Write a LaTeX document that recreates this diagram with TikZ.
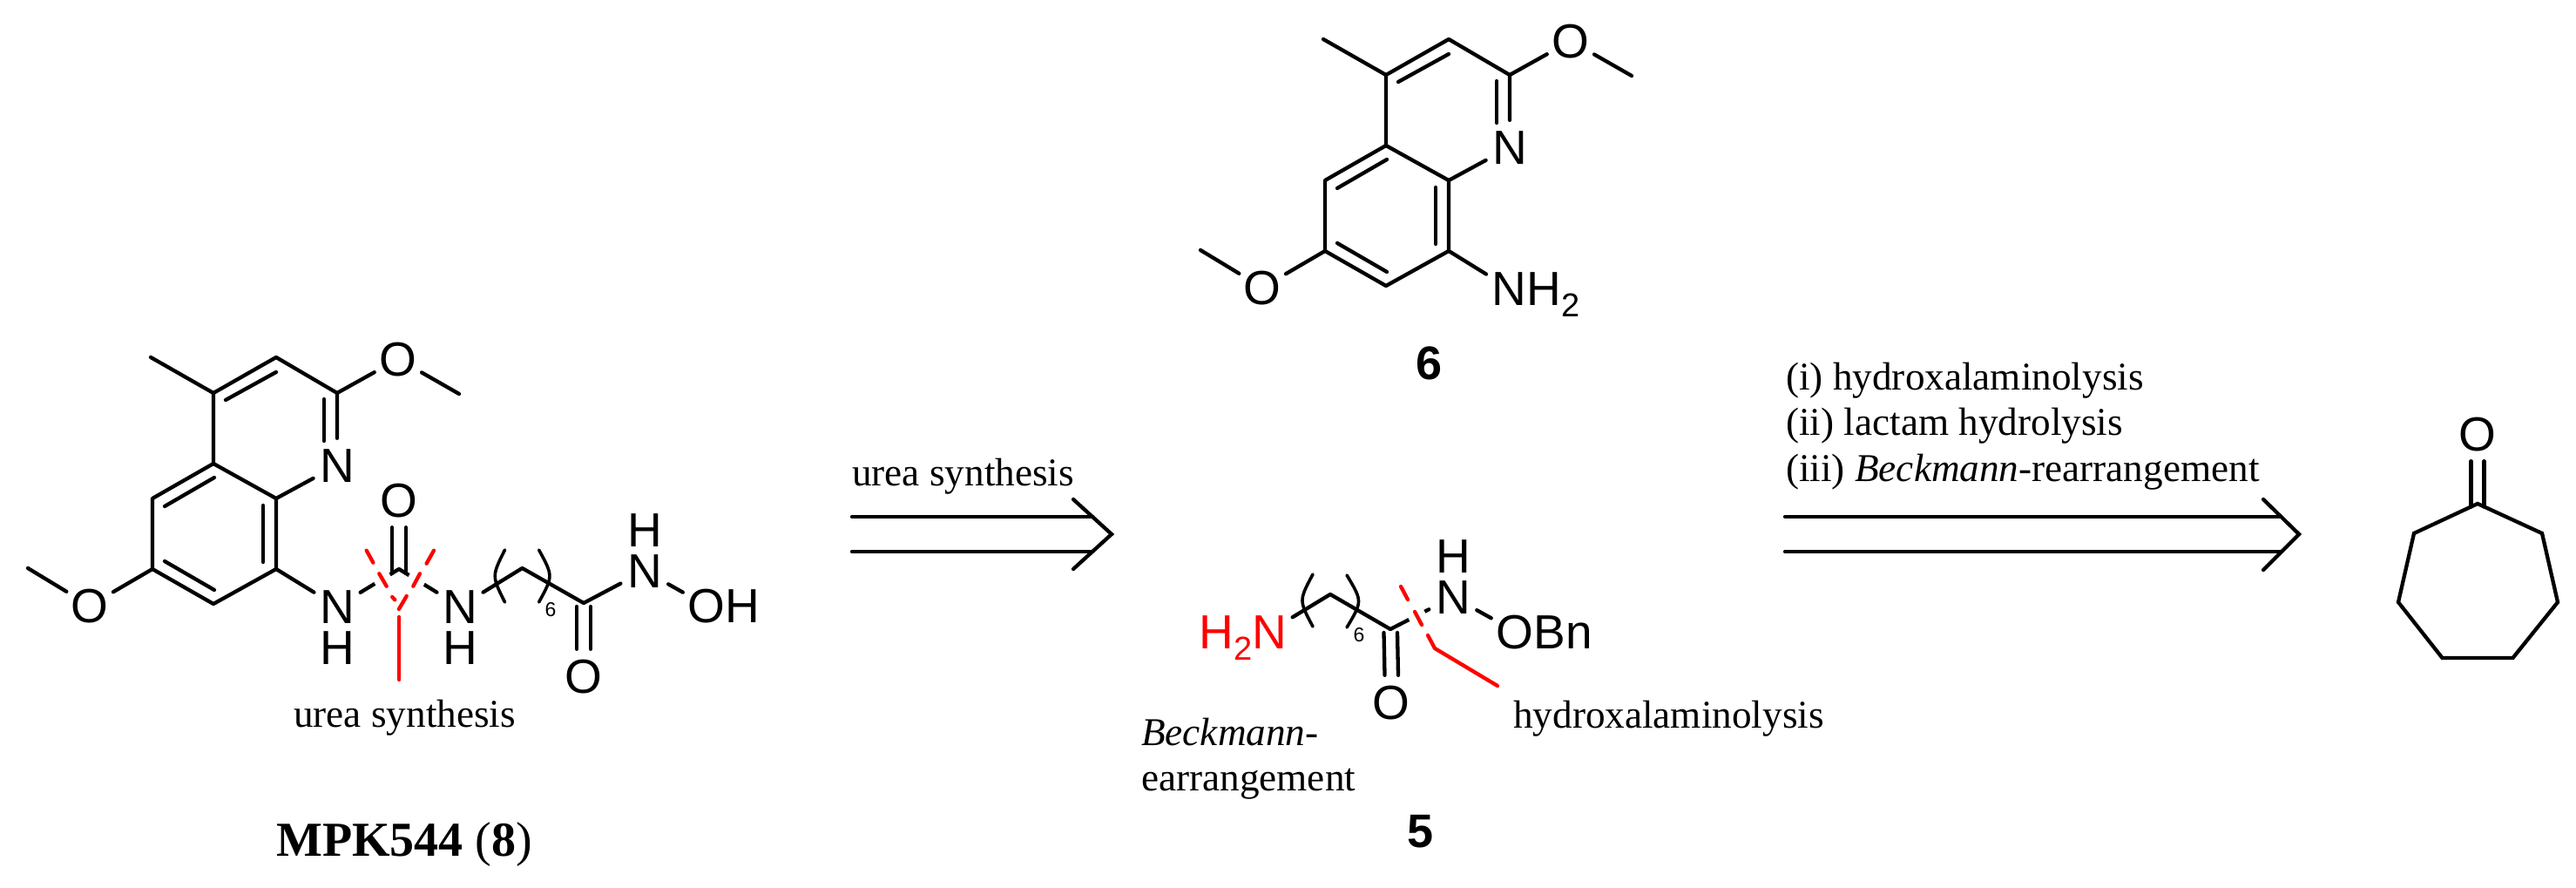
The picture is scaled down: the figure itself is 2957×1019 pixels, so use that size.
\documentclass[tikz,border=0pt]{standalone}
\usepackage{fontspec}
\setmainfont{Liberation Serif}
\newfontfamily\atomf{Liberation Sans}
\definecolor{cutred}{RGB}{255,0,0}
\tikzset{
  bond/.style={draw=black,line width=4.3pt,line cap=round,line join=round},
  thinbond/.style={draw=black,line width=3.6pt,line cap=round},
  cut/.style={draw=cutred,line width=4.3pt,line cap=round,line join=round},
  cuthalo/.style={draw=white,line width=20pt,line cap=butt},
  atom/.style={circle,inner sep=0pt,minimum size=62pt,text height=39.5pt,text depth=0pt,font=\atomf\fontsize{55}{60}\selectfont},
  plainlabel/.style={inner sep=0pt,anchor=base west,font=\fontsize{45.2}{52}\selectfont},
  boldnum/.style={inner sep=0pt,anchor=base,font=\atomf\bfseries\fontsize{54}{60}\selectfont},
  repeatnum/.style={inner sep=0pt,font=\atomf\fontsize{23}{26}\selectfont}
}
\newcommand{\subtwo}{\raisebox{-13pt}{\fontsize{38}{40}\selectfont 2}}
\newcommand{\quin}[3]{%
\begin{scope}[shift={(#2,#3)}]
  \coordinate (#1me) at (173,410);
  \coordinate (#1c4) at (245,451);
  \coordinate (#1c3) at (317,410);
  \coordinate (#1c2) at (387,451);
  \coordinate (#1c8a) at (317,572);
  \coordinate (#1c4a) at (245,532);
  \coordinate (#1c5) at (175,572);
  \coordinate (#1c6) at (175,653);
  \coordinate (#1c7) at (245,693);
  \coordinate (#1c8) at (317,653);
  \coordinate (#1mea) at (527,452);
  \coordinate (#1meb) at (32,652);
  \node[atom] (#1ot) at (457,412) {O};
  \node[atom] (#1n) at (387,534) {N};
  \node[atom] (#1ob) at (103,695) {O};
  \draw[bond] (#1me) -- (#1c4) -- (#1c3) -- (#1c2) -- (#1n);
  \draw[bond] (#1c2) -- (#1ot) -- (#1mea);
  \draw[bond] (#1n) -- (#1c8a) -- (#1c4a) -- (#1c4);
  \draw[bond] (#1c4a) -- (#1c5) -- (#1c6) -- (#1c7) -- (#1c8) -- (#1c8a);
  \draw[bond] (#1c6) -- (#1ob) -- (#1meb);
  \draw[bond] (259,459) -- (317,427);
  \draw[bond] (372,458) -- (372,506);
  \draw[bond] (189,581) -- (246,548);
  \draw[bond] (189,644) -- (246,677);
  \draw[bond] (302,580) -- (302,645);
\end{scope}}
\begin{document}
\begin{tikzpicture}[x=1pt,y=-1pt]
\useasboundingbox (0,0) rectangle (2957,1019);
% ---------- MPK544 (8)
\quin{a}{0}{0}
\node[atom] (an1) at (387,696) {N};
\node[atom] (ah1) at (387,743) {H};
\coordinate (acu) at (458,653);
\node[atom] (aou) at (458,574) {O};
\node[atom] (an2) at (528,696) {N};
\node[atom] (ah2) at (528,743) {H};
\coordinate (apk) at (599.5,652);
\coordinate (aca) at (670,692);
\node[atom] (aoa) at (670,776) {O};
\node[atom] (an3) at (740,655) {N};
\node[atom] (ah3) at (740,608) {H};
\node[atom] (aoh) at (811,695) {O\rlap{H}};
\draw[bond] (ac8) -- (an1) -- (acu) -- (an2) -- (apk) -- (aca) -- (an3) -- (aoh);
\draw[bond] ([shift={(-8pt,-5pt)}]acu.center) -- ([xshift=-8pt]aou.south);
\draw[bond] ([shift={(8pt,-5pt)}]acu.center) -- ([xshift=8pt]aou.south);
\draw[bond] ([shift={(-8pt,-4pt)}]aca.center) -- ([xshift=-8pt]aoa.north);
\draw[bond] ([shift={(8pt,-4pt)}]aca.center) -- ([xshift=8pt]aoa.north);
\draw[thinbond] (579.5,631) .. controls (564.5,661) .. (579.5,691);
\draw[thinbond] (618.6,631) .. controls (635,661) .. (618.6,691);
\node[repeatnum] (arep) at (632,700) {6};
% red cuts of the urea
\draw[cuthalo] (435.3,658.3) -- (443.7,672.7);
\draw[cuthalo] (482,658.3) -- (474.3,672.7);
\draw[cut] (420.7,631.7) -- (428.4,645.7);
\draw[cut] (435.3,658.3) -- (443.7,672.7);
\draw[cut] (450.2,685) -- (453.3,688.3);
\draw[cut] (498,631.7) -- (489.6,646.7);
\draw[cut] (482,658.3) -- (474.3,672.7);
\draw[cut] (466.7,684) -- (457.9,699);
\draw[cut] (458.2,708) -- (458.2,780);
\node[plainlabel] (aurea) at (337,834) {urea synthesis};
\node[inner sep=0pt,anchor=base west,font=\fontsize{56}{60}\selectfont] (aname) at (317,982) {\textbf{MPK544} (\textbf{8})};
% ---------- first retro arrow
\coordinate (ra1) at (978,593);
\coordinate (ra2) at (978,633);
\coordinate (ra3) at (1254,593);
\coordinate (ra4) at (1254,633);
\coordinate (rat) at (1232,573);
\coordinate (rab) at (1232,653);
\coordinate (rap) at (1276,613);
\node[plainlabel] (rlab) at (978,557) {urea synthesis};
\draw[bond] (ra1) -- (ra3);
\draw[bond] (ra2) -- (ra4);
\draw[bond,line cap=round,line join=miter] (rat) -- (rap) -- (rab);
% ---------- compound 6
\quin{b}{1346}{-365}
\node[atom] (bnh) at (1732.5,331) {N\rlap{H\subtwo}};
\draw[bond] (bc8) -- (bnh);
\node[boldnum] (bname) at (1640,435) {6};
% ---------- compound 5
\node[atom,text=cutred] (cn) at (1457,724.5) {\llap{H\subtwo}N};
\coordinate (cpk) at (1527,682);
\coordinate (cca) at (1596,722);
\node[atom] (coa) at (1597,806) {O};
\node[atom] (cnh) at (1668,685) {N};
\node[atom] (chh) at (1668,638) {H};
\node[atom] (cob) at (1739,724.5) {O\rlap{Bn}};
\draw[bond] (cn) -- (cpk) -- (cca) -- (cnh) -- (cob);
\draw[bond] ([shift={(-7.5pt,-4pt)}]cca.center) -- ([xshift=-7.5pt]coa.north);
\draw[bond] ([shift={(8pt,-4pt)}]cca.center) -- ([xshift=8pt]coa.north);
\draw[thinbond] (1507,659) .. controls (1491,689) .. (1507,719);
\draw[thinbond] (1546,660) .. controls (1564,690) .. (1546,720);
\node[repeatnum] (crep) at (1560,729) {6};
\draw[cuthalo] (1624,702) -- (1632,717);
\draw[cut] (1608,673) -- (1616,688);
\draw[cut] (1624,702) -- (1632,717);
\draw[cut] (1639,729) -- (1647,744) -- (1719,787);
\node[plainlabel] (chyd) at (1737,835) {hydroxalaminolysis};
\node[plainlabel] (cbeck) at (1310,855) {\textit{Beckmann}-};
\node[plainlabel] (cearr) at (1310,907) {earrangement};
\node[boldnum] (cname) at (1630,972) {5};
% ---------- second retro arrow
\coordinate (rb1) at (2049,593);
\coordinate (rb2) at (2049,633);
\coordinate (rb3) at (2618,593);
\coordinate (rb4) at (2618,633);
\coordinate (rbt) at (2598,573);
\coordinate (rbb) at (2598,654);
\coordinate (rbp) at (2639,613);
\node[plainlabel] (rl1) at (2050,447) {(i) hydroxalaminolysis};
\node[plainlabel] (rl2) at (2050,499) {(ii) lactam hydrolysis};
\node[plainlabel] (rl3) at (2050,552) {(iii) \textit{Beckmann}-rearrangement};
\draw[bond] (rb1) -- (rb3);
\draw[bond] (rb2) -- (rb4);
\draw[bond,line join=miter] (rbt) -- (rbp) -- (rbb);
% ---------- cycloheptanone
\coordinate (k1) at (2844,578);
\coordinate (k2) at (2771,612);
\coordinate (k3) at (2753,691);
\coordinate (k4) at (2803.5,755);
\coordinate (k5) at (2884.5,755);
\coordinate (k6) at (2936,691);
\coordinate (k7) at (2918,612);
\node[atom] (ko) at (2844,498) {O};
\draw[bond,line join=miter] (k1) -- (k2) -- (k3) -- (k4) -- (k5) -- (k6) -- (k7) -- cycle;
\draw[bond] ([shift={(-7.5pt,-3.5pt)}]k1.center) -- ([xshift=-7.5pt]ko.south);
\draw[bond] ([shift={(7.5pt,-3.5pt)}]k1.center) -- ([xshift=7.5pt]ko.south);
\end{tikzpicture}
\end{document}
